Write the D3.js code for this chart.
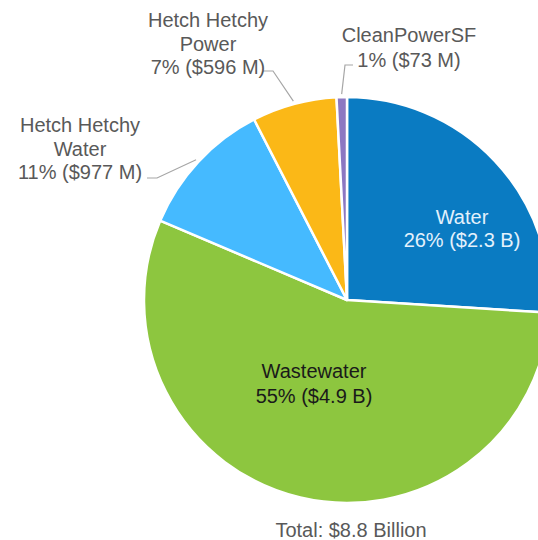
<!DOCTYPE html>
<html><head><meta charset="utf-8">
<script src="https://cdn.jsdelivr.net/npm/d3@7"></script>
<style>html,body{margin:0;padding:0;background:#fff;}svg{display:block;}</style>
</head><body>
<svg id="c" width="538" height="540"></svg>
<script>
// ---- data ----
const categories = ["Water", "Wastewater", "Hetch Hetchy Water", "Hetch Hetchy Power", "CleanPowerSF"];
const values = [2300, 4900, 977, 596, 73]; // $ millions
const amountLabels = ["$2.3 B", "$4.9 B", "$977 M", "$596 M", "$73 M"];
const nameLines = [["Water"], ["Wastewater"], ["Hetch Hetchy", "Water"], ["Hetch Hetchy", "Power"], ["CleanPowerSF"]];
const totalLabel = "Total: $8.8 Billion";
const colors = ["#0a7bc2", "#8dc63f", "#45baff", "#fbb817", "#8c78c2"];

// ---- layout ----
const W = 538, H = 540;
const cx = 347, cy = 300, R = 203;
const font = "'Liberation Sans', Arial, sans-serif";
// label anchor (center x, first baseline y, line height, colour, leader)
const labelLayout = [
  {x: 462, y: 224, lh: 23, fill: "#e3f1fc", leader: null},
  {x: 314, y: 378, lh: 25, fill: "#1a1a1a", leader: null},
  {x: 80,  y: 132, lh: 23.5, fill: "#595959", leader: {x0: 147, y0: 178, x1: 157}},
  {x: 208, y: 27,  lh: 23.5, fill: "#595959", leader: {x0: 263, y0: 71, x1: 273}},
  {x: 409, y: 42,  lh: 25, fill: "#595959", leader: {x0: 353, y0: 65, x1: 345}}
];

const svg = d3.select("#c");
const total = d3.sum(values);
const pct = d3.format(".0%");

const pie = d3.pie().sort(null).value(d => d)(values);
const arc = d3.arc().innerRadius(0).outerRadius(R);

const g = svg.append("g").attr("transform", `translate(${cx},${cy})`);
g.selectAll("path.slice").data(pie).join("path")
  .attr("class", "slice")
  .attr("d", arc)
  .attr("fill", (d, i) => colors[i])
  .attr("stroke", "#fff")
  .attr("stroke-width", 2.5)
  .attr("stroke-linejoin", "round");

// leader lines
const outer = d3.arc().innerRadius(R + 3).outerRadius(R + 3);
pie.forEach((d, i) => {
  const L = labelLayout[i].leader;
  if (!L) return;
  const c = outer.centroid(d);
  svg.append("path")
    .attr("d", `M${L.x0},${L.y0}L${L.x1},${L.y0}L${cx + c[0]},${cy + c[1]}`)
    .attr("fill", "none")
    .attr("stroke", "#a6a6a6")
    .attr("stroke-width", 1.2);
});

// labels
pie.forEach((d, i) => {
  const L = labelLayout[i];
  const lines = nameLines[i].concat([`${pct(values[i] / total)} (${amountLabels[i]})`]);
  const t = svg.append("text")
    .attr("text-anchor", "middle")
    .attr("font-family", font)
    .attr("font-size", 20)
    .attr("fill", L.fill);
  lines.forEach((s, k) => {
    t.append("tspan").attr("x", L.x).attr("y", L.y + k * L.lh).text(s);
  });
});

svg.append("text")
  .attr("x", 351).attr("y", 537)
  .attr("text-anchor", "middle")
  .attr("font-family", font)
  .attr("font-size", 20)
  .attr("fill", "#595959")
  .text(totalLabel);
</script>
</body></html>
